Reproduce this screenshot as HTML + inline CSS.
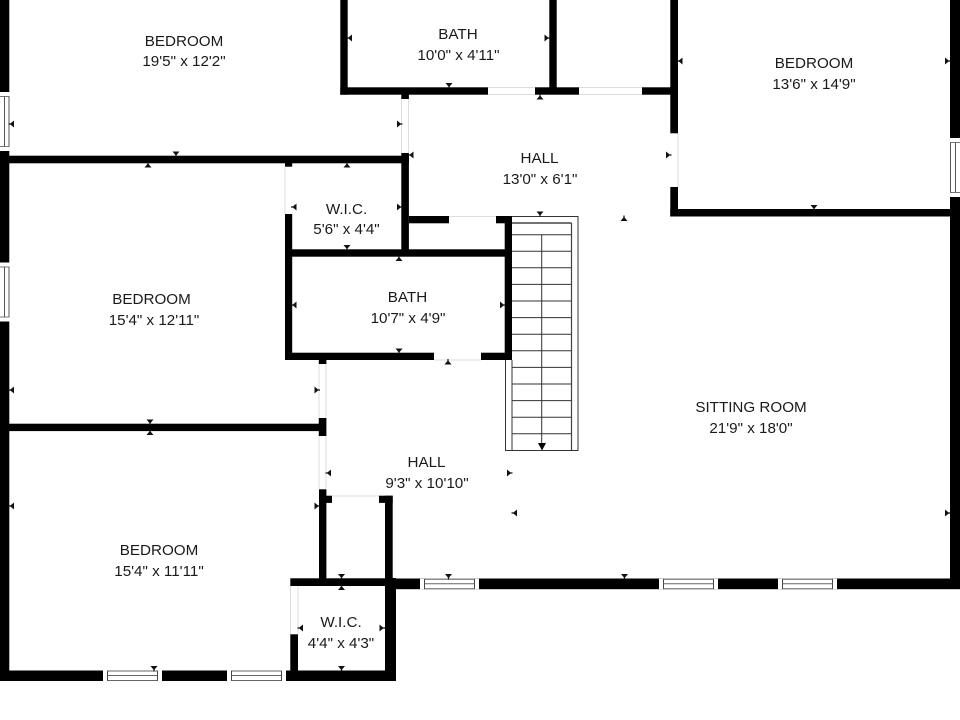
<!DOCTYPE html>
<html><head><meta charset="utf-8"><style>
html,body{margin:0;padding:0;background:#fff}
svg{display:block}
text{font-family:"Liberation Sans",sans-serif;font-size:15.2px;fill:#1a1a1a;text-anchor:middle}
</style></head><body>
<svg width="960" height="720" viewBox="0 0 960 720" xmlns="http://www.w3.org/2000/svg">
<defs>
<g id="d"><path d="M-3.5 -3H3.5L.6 .5V2.5H-.6V.5Z" fill="#111"/></g>
<g id="u"><path d="M-3.5 3H3.5L.6 -.5V-2.5H-.6V-.5Z" fill="#111"/></g>
<g id="r"><path d="M-3 -3.5V3.5L.5 .6H2.5V-.6H.5Z" fill="#111"/></g>
<g id="l"><path d="M3 -3.5V3.5L-.5 .6H-2.5V-.6H-.5Z" fill="#111"/></g>
<g id="wh"><rect x="0" y="0" width="59" height="10.5" fill="#fff"/><path d="M4.5 0V10.5M54.5 0V10.5" stroke="#444" stroke-width="1"/><path d="M4.5 .5H54.5M4.5 5H54.5M4.5 10H54.5" stroke="#666" stroke-width="1"/></g>
<g id="wv"><rect x="0" y="0" width="9.5" height="59" fill="#fff"/><path d="M0 4.5H9.5M0 54.5H9.5" stroke="#777" stroke-width="1"/><path d="M4.5 4.5V54.5M9 4.5V54.5" stroke="#555" stroke-width="1"/></g>
</defs>
<rect width="960" height="720" fill="#fff"/>

<!-- doors (pale edges) -->
<g fill="none" stroke="#ddd" stroke-width="1">
<path d="M488 87.5H535M488 94.5H535M579 87.5H642M579 94.5H642"/>
<path d="M401.5 99V153M408.5 99V153"/>
<path d="M285 167V214"/>
<path d="M449 216.5H496"/>
<path d="M434 360H481"/>
<path d="M319 364V489M326 364V418M326 436V489"/>
<path d="M332 496H379"/>
<path d="M298 586V634M290.5 586V634"/>
<path d="M678 133V187"/>
</g>

<!-- stairs -->
<g fill="none" stroke="#333" stroke-width="1">
<path d="M512 216.5H578V450.5H571.5M505.5 360V450.5H571.5"/>
<path d="M512 360V450.5"/>
<path d="M571.5 223V450.5" stroke="#444" stroke-width="1.2"/>
<path d="M512 223H571.5" stroke="#444" stroke-width="1.6"/>
<path d="M512 234.7H571.5M512 251.3H571.5M512 267.8H571.5M512 284.4H571.5M512 301H571.5M512 317.6H571.5M512 334.2H571.5M512 350.8H571.5M512 367.4H571.5M512 384H571.5M512 400.6H571.5M512 417.2H571.5M512 433.8H571.5"/>
<path d="M541.7 234.7V444"/>
</g>
<path d="M538 443H546L542 450.5Z" fill="#000"/>

<!-- walls -->
<g fill="#000">
<rect x="0" y="0" width="9.3" height="92"/>
<rect x="0" y="151" width="9.3" height="112"/>
<rect x="0" y="321" width="9.3" height="360"/>
<rect x="0" y="155.7" width="409" height="7.6"/>
<rect x="0" y="423.7" width="319" height="7.4"/>
<rect x="0" y="670.5" width="396" height="10.5"/>

<rect x="340.3" y="0" width="7.4" height="94.7"/>
<rect x="340.3" y="87.3" width="147.7" height="7.4"/>
<rect x="535" y="87.3" width="44" height="7.4"/>
<rect x="549.3" y="0" width="7.4" height="90"/>
<rect x="642" y="87.3" width="30" height="7.4"/>
<rect x="401.3" y="94" width="7.6" height="5"/>

<rect x="401.3" y="153" width="7.6" height="100"/>
<rect x="409" y="216" width="40" height="7.3"/>
<rect x="496" y="216" width="16" height="7.3"/>
<rect x="504.7" y="216" width="7.3" height="144"/>
<rect x="285" y="249.3" width="227" height="7.4"/>
<rect x="285" y="163" width="7.2" height="3.7"/>
<rect x="285" y="214" width="7.2" height="146"/>
<rect x="285" y="352.7" width="149" height="7.3"/>
<rect x="481" y="352.7" width="31" height="7.3"/>
<rect x="318.8" y="360" width="7.6" height="4"/>
<rect x="318.8" y="418" width="7.6" height="18"/>
<rect x="319" y="489.3" width="7.4" height="96"/>
<rect x="326" y="495.7" width="6" height="7.2"/>
<rect x="379" y="495.7" width="13.7" height="7.2"/>
<rect x="385" y="495.7" width="7.7" height="90"/>
<rect x="385" y="578" width="11" height="103"/>
<rect x="290.3" y="578.3" width="105" height="7.7"/>
<rect x="290.3" y="634.3" width="7.7" height="40"/>
<rect x="392" y="578.5" width="568" height="10.7"/>

<rect x="670.3" y="0" width="7.7" height="133.3"/>
<rect x="670.3" y="187" width="7.7" height="29.5"/>
<rect x="670.3" y="209" width="285" height="7.5"/>
<rect x="950" y="0" width="10" height="138"/>
<rect x="950" y="197" width="10" height="392"/>
</g>

<!-- windows -->
<use href="#wv" x="0" y="92"/>
<use href="#wv" x="0" y="262.5"/>
<g transform="translate(950,138)"><rect width="10" height="59" fill="#fff"/><path d="M0 4.5H10M0 54.5H10" stroke="#777"/><path d="M.5 4.5V54.5M5.5 4.5V54.5" stroke="#555"/></g>
<use href="#wh" x="420" y="578.7"/>
<use href="#wh" x="659" y="578.7"/>
<use href="#wh" x="778" y="578.7"/>
<use href="#wh" x="103" y="670.5"/>
<use href="#wh" x="227" y="670.5"/>

<!-- dimension ticks -->
<use href="#l" x="11" y="124"/><use href="#l" x="11" y="390"/><use href="#l" x="11" y="506"/>
<use href="#l" x="349" y="38"/><use href="#r" x="547.5" y="38"/>
<use href="#d" x="449" y="86"/><use href="#u" x="540" y="96.5"/>
<use href="#r" x="400" y="124"/><use href="#l" x="410.5" y="155"/>
<use href="#d" x="176" y="154.5"/><use href="#u" x="148" y="164.5"/><use href="#u" x="347" y="164.5"/>
<use href="#l" x="293.5" y="207"/><use href="#r" x="400" y="207"/>
<use href="#d" x="347" y="248"/><use href="#u" x="399" y="258"/>
<use href="#l" x="293.5" y="305"/><use href="#r" x="503" y="305"/>
<use href="#d" x="399" y="351.5"/><use href="#u" x="448" y="361.5"/>
<use href="#r" x="317.5" y="390"/><use href="#d" x="540" y="214.5"/><use href="#u" x="624" y="218"/>
<use href="#l" x="328" y="473"/><use href="#r" x="510" y="473"/>
<use href="#r" x="317.5" y="506"/><use href="#l" x="514" y="513"/>
<use href="#d" x="150" y="422.5"/><use href="#u" x="150" y="432"/>
<use href="#d" x="341.5" y="577"/><use href="#u" x="341.5" y="587"/>
<use href="#l" x="300" y="628"/><use href="#r" x="382.5" y="628"/>
<use href="#d" x="341.5" y="669"/><use href="#d" x="154" y="669"/>
<use href="#d" x="448.5" y="577"/><use href="#d" x="624.5" y="577"/>
<use href="#d" x="814" y="208"/><use href="#l" x="679.5" y="61"/><use href="#r" x="948" y="61"/>
<use href="#r" x="669" y="155"/><use href="#r" x="948" y="513"/>

<!-- labels -->
<text x="184" y="46">BEDROOM</text><text x="184" y="66">19'5" x 12'2"</text>
<text x="458" y="39">BATH</text><text x="458.500" y="60">10'0" x 4'11"</text>
<text x="814" y="68">BEDROOM</text><text x="814" y="89">13'6" x 14'9"</text>
<text x="539.500" y="163">HALL</text><text x="540" y="184">13'0" x 6'1"</text>
<text x="346.500" y="214">W.I.C.</text><text x="346.500" y="234">5'6" x 4'4"</text>
<text x="151.500" y="304">BEDROOM</text><text x="154" y="325">15'4" x 12'11"</text>
<text x="407.500" y="302">BATH</text><text x="408" y="323">10'7" x 4'9"</text>
<text x="751" y="412">SITTING ROOM</text><text x="751" y="433">21'9" x 18'0"</text>
<text x="426.500" y="467">HALL</text><text x="427" y="488">9'3" x 10'10"</text>
<text x="159" y="555">BEDROOM</text><text x="159" y="576">15'4" x 11'11"</text>
<text x="341" y="627">W.I.C.</text><text x="341" y="648">4'4" x 4'3"</text>
</svg>
</body></html>
